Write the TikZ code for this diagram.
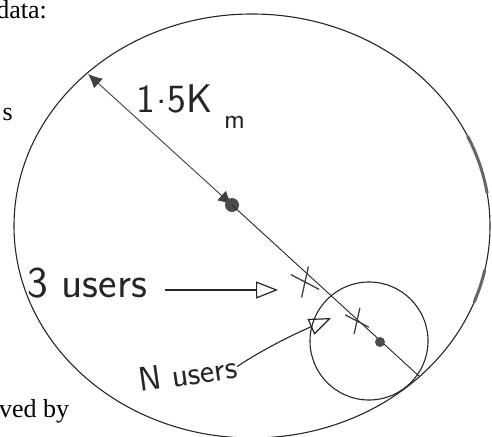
\documentclass[tikz,border=0pt]{standalone}
\usepackage{fontspec}
\setmainfont{Liberation Serif}
\usetikzlibrary{arrows.meta,shapes.misc}
\begin{document}
\begin{tikzpicture}[x=1pt,y=-1pt,
  ink/.style={draw=black!85, line width=1.1pt},
  heavy/.style={draw=black!60, line width=3pt, line cap=round},
  hand/.style={inner sep=0pt, text=black!85},
  printed/.style={font=\fontsize{26}{28}\selectfont, inner sep=0pt},
  xmark/.style={cross out, draw=black!75, line width=1.3pt, inner sep=0pt},
  openhead/.style={-{Triangle[open,length=22pt,width=17pt,line width=1.2pt]}},
  solidtip/.style={{Latex[length=14pt,width=13pt]}-{Latex[length=14pt,width=13pt]}}
]
\useasboundingbox (0,0) rectangle (492,436);
\clip (0,0) rectangle (492,436);

% printed page fragments
\node[printed, anchor=base east] (data) at (47,19) {data:};
\node[printed, anchor=base east] (s) at (13,120) {s};
\node[printed, anchor=base west] (vedby) at (-1,417) {ved by};

% big cell
\draw[ink] (252,226) ellipse [x radius=238, y radius=212];
\draw[heavy] plot[domain=9:25, variable=\t, samples=30] ({252+238*cos(\t)},{226-212*sin(\t)});
\draw[heavy] plot[domain=-21:-12, variable=\t, samples=20] ({252+238*cos(\t)},{226-212*sin(\t)});

% radius line
\coordinate (edge) at (88,74);
\coordinate (c) at (232,205);
\coordinate (far) at (420,377);
\draw[ink, line width=0.9pt, draw=black!75, solidtip] (edge) -- (c);
\fill[black!70] (c) circle (7);
\draw[ink, line width=0.9pt] (c) -- (far);

% small cell
\node[draw=black!85, line width=1.1pt, circle, minimum size=118pt, inner sep=0pt] (cell) at (369,341) {};
\node[fill=black!70, circle, inner sep=0pt, minimum size=10pt] (sdot) at (380,342) {};

% user marks
\node[xmark, minimum width=18pt, minimum height=24pt, rotate=25] (x1) at (305,282) {};
\node[xmark, minimum width=15pt, minimum height=20pt, rotate=25] (x2) at (357,321) {};

% labels
\node[hand, font=\sffamily\fontsize{40}{42}\selectfont, anchor=base west] (km) at (136,112) {1\kern1pt\raisebox{9pt}{.}\kern1pt5K};
\node[hand, font=\sffamily\fontsize{28}{30}\selectfont, anchor=base west] (m) at (224,128) {m};

\node[hand, font=\sffamily\fontsize{44}{46}\selectfont, anchor=base west] (three) at (27,297) {3 users};
\coordinate (t3) at (278,290);
\draw[ink, openhead] ([xshift=18pt,yshift=7pt]three.base east) -- (t3);

\node[hand, font=\sffamily\fontsize{34}{36}\selectfont, anchor=base west, rotate=8] (nusers) at (140,392) {N users};
\coordinate (tN) at (331,318);
\draw[ink, openhead] (nusers.east) .. controls (262,350) and (290,336) .. (tN);
\end{tikzpicture}
\end{document}
